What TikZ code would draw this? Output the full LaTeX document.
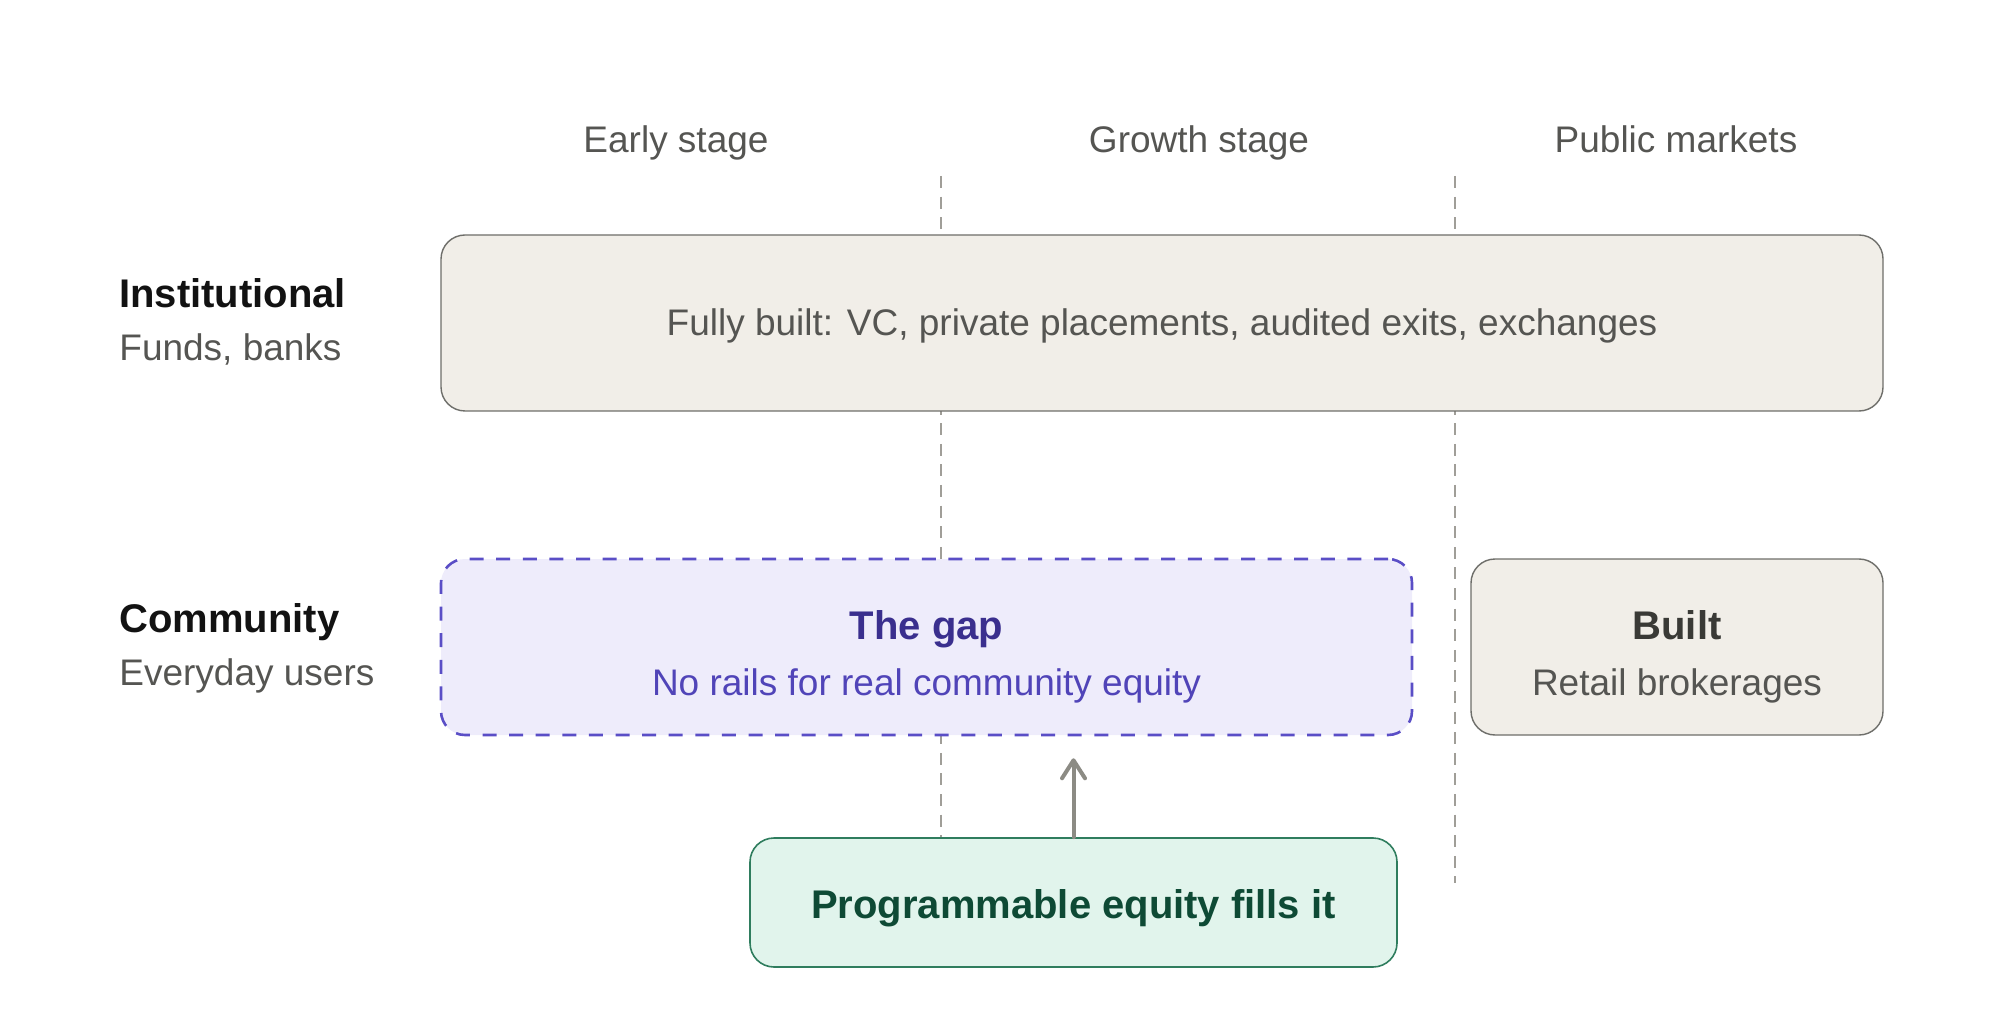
\documentclass[tikz,border=0pt]{standalone}
\usepackage{fontspec}
\setmainfont{Liberation Sans}
\usepackage{tikz}
\usetikzlibrary{positioning, calc, arrows.meta}
\definecolor{sand}{HTML}{F1EEE8}
\definecolor{sandline}{HTML}{6E6E6A}
\definecolor{inkgray}{HTML}{555552}
\definecolor{inkdark}{HTML}{3A3A36}
\definecolor{gapfill}{HTML}{EEECFB}
\definecolor{gapline}{HTML}{5A4EC6}
\definecolor{gapdark}{HTML}{3A2F8E}
\definecolor{gaptext}{HTML}{5044B8}
\definecolor{mint}{HTML}{E1F4EC}
\definecolor{mintline}{HTML}{2F7D5E}
\definecolor{mintdark}{HTML}{0E4A35}
\definecolor{rulegray}{HTML}{A09E98}
\definecolor{arrowgray}{HTML}{8C8B84}
\newcommand{\bodyfont}{\fontsize{18.5}{22}\selectfont}
\newcommand{\headfont}{\fontsize{20}{24}\selectfont\bfseries}

\begin{document}
\begin{tikzpicture}[x=0.5pt, y=0.5pt,
    >={Straight Barb[length=9pt,width=11.5pt,line cap=round,line join=round]},
    box/.style={draw=sandline, line width=0.7pt, fill=sand, rounded corners=12pt, inner sep=0pt},
    gapbox/.style={draw=gapline, line width=1.3pt, fill=gapfill, rounded corners=12pt,
        dash pattern=on 7pt off 6.3pt, inner sep=0pt},
    greenbox/.style={draw=mintline, line width=0.8pt, fill=mint, rounded corners=12pt, inner sep=0pt},
    divider/.style={draw=rulegray, line width=0.75pt, dash pattern=on 6pt off 4.3pt},
    body/.style={font=\bodyfont, text=inkgray, inner sep=0pt, anchor=base},
    title/.style={font=\headfont, inner sep=0pt, anchor=base},
    rowhead/.style={title, text=black!93, anchor=base west},
    rownote/.style={body, anchor=base west}]

    \useasboundingbox (0,0) rectangle (2000,1029);

    % stage dividers
    \draw[divider] (941,853) -- (941,191);
    \draw[divider] (1455,853) -- (1455,146);

    % column headings
    \node[body] (early) at (676,876) {Early stage};
    \node[body] (growth) at (1199,876) {Growth stage};
    \node[body] (public) at (1676,876) {Public markets};

    % row headings
    \node[rowhead] (insthead) at (119,721) {Institutional};
    \node[rownote] (instnote) at (119,668) {Funds, banks};
    \node[rowhead] (commhead) at (119,397) {Community};
    \node[rownote] (commnote) at (119,344) {Everyday users};

    % boxes
    \node[box, minimum width=721pt, minimum height=88pt] (inst) at (1162,706) {};
    \node[body] (insttext) at ([yshift=-6.5pt]inst.center) {Fully built: VC, private placements, audited exits, exchanges};

    \node[gapbox, minimum width=485.5pt, minimum height=88pt] (gap) at (926.5,382) {};
    \node[title, text=gapdark] (gaptitle) at ([yshift=4pt]gap.center) {The gap};
    \node[body, text=gaptext] (gaptext) at ([yshift=-24pt]gap.center) {No rails for real community equity};

    \node[box, minimum width=206pt, minimum height=88pt] (built) at (1677,382) {};
    \node[title, text=inkdark] (builttitle) at ([yshift=4pt]built.center) {Built};
    \node[body] (builttext) at ([yshift=-24pt]built.center) {Retail brokerages};

    \node[greenbox, minimum width=323.5pt, minimum height=64.5pt] (prog) at (1073.5,126.5) {};
    \node[title, text=mintdark] (progtext) at ([yshift=-7.75pt]prog.center) {Programmable equity fills it};

    \draw[->, draw=arrowgray, line width=2pt, line cap=round, shorten >=11pt] (prog.north) -- (prog.north |- gap.south);

\end{tikzpicture}
\end{document}
